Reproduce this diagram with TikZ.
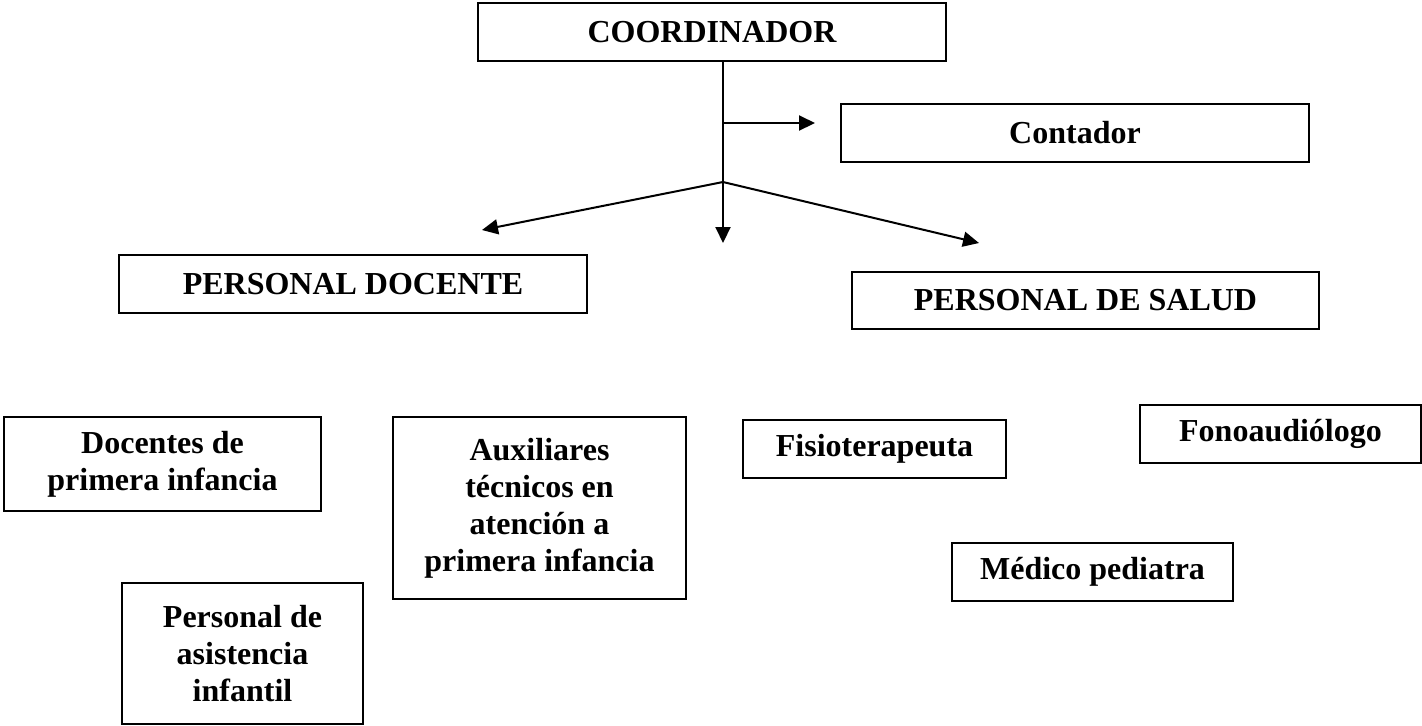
\documentclass[tikz,border=0pt]{standalone}
\usepackage{fontspec}
\setmainfont{Liberation Serif}
\usetikzlibrary{arrows.meta}
\tikzset{
  orgbox/.style={draw=black, line width=1pt, fill=white, inner sep=0pt, align=center,
    font=\bfseries\fontsize{16pt}{18.5pt}\selectfont},
  arr/.style={line width=1pt, -{Triangle[length=8pt,width=7.5pt]}},
  plain/.style={line width=1pt}
}
\begin{document}
\begin{tikzpicture}[x=0.5pt,y=-0.5pt]
\useasboundingbox (0,0) rectangle (1422,725);
\node[orgbox, minimum width=234pt, minimum height=29pt] (coord) at (712,32) {COORDINADOR};
\node[orgbox, minimum width=234pt, minimum height=29pt] (cont) at (1075,133) {Contador};
\node[orgbox, minimum width=234pt, minimum height=29pt] (pd) at (353,284) {PERSONAL DOCENTE};
\node[orgbox, minimum width=233.5pt, minimum height=28.5pt] (pds) at (1085.5,300.5) {PERSONAL DE SALUD};
\node[orgbox, minimum width=158.5pt, minimum height=47pt] (doc) at (162.5,464) {Docentes de\\primera infancia};
\node[orgbox, minimum width=146.5pt, minimum height=91pt] (aux) at (539.5,508) {Auxiliares\\técnicos en\\atención a\\primera infancia};
\node[orgbox, minimum width=120.5pt, minimum height=70.5pt] (pers) at (242.5,653.5) {Personal de\\asistencia\\infantil};
\node[orgbox, minimum width=131.5pt, minimum height=29pt] (fisio) at (874.5,449) {Fisioterapeuta};
\node[orgbox, minimum width=140.5pt, minimum height=29pt] (fono) at (1280.5,434) {Fonoaudiólogo};
\node[orgbox, minimum width=140.5pt, minimum height=29pt] (med) at (1092.5,572) {Médico pediatra};
\coordinate (j1) at (723,123);
\coordinate (j2) at (723,182);
\coordinate (tipC) at (815,123);
\coordinate (tipM) at (723,243);
\coordinate (tipL) at (482,230);
\coordinate (tipR) at (979,243);
\draw[arr] (coord.south -| j2) -- (tipM);
\draw[arr] (j1) -- (tipC);
\draw[arr] (j2) -- (tipL);
\draw[arr] (j2) -- (tipR);
\end{tikzpicture}
\end{document}
